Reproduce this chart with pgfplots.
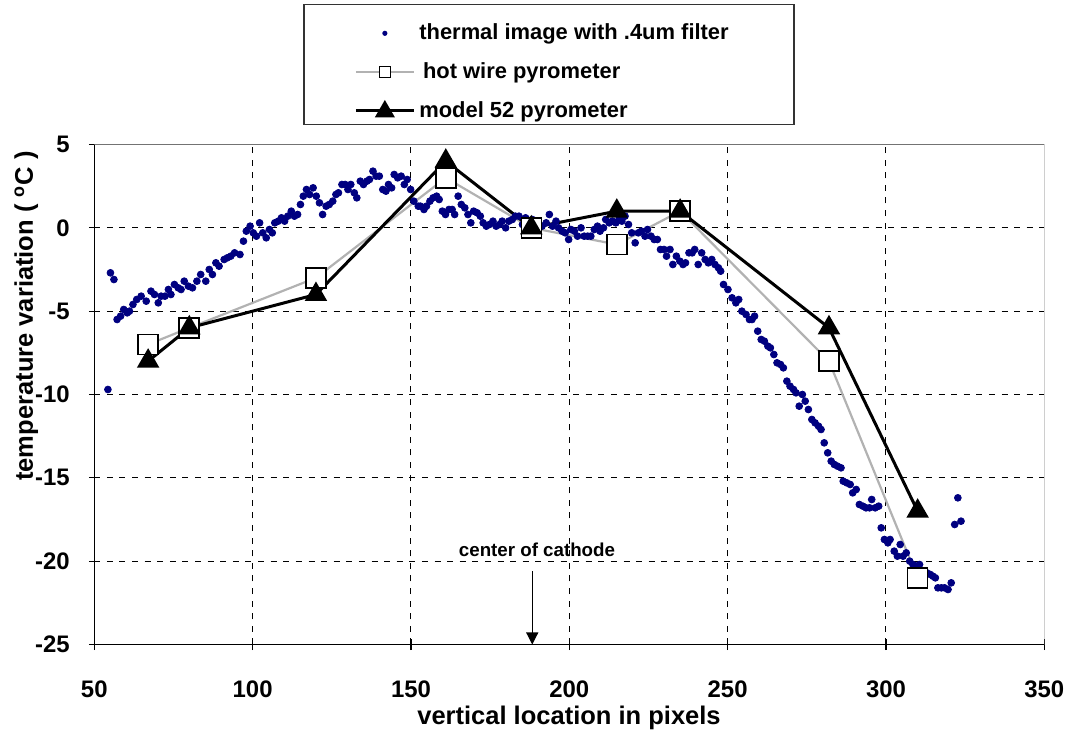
\documentclass[border=0pt]{standalone}
\usepackage{fontspec}
\setmainfont{Liberation Sans}
\usepackage{pgfplots}
\pgfplotsset{compat=1.18}
\usetikzlibrary{arrows.meta}
\definecolor{navy}{RGB}{0,0,128}
\definecolor{hotgray}{RGB}{178,178,178}

\begin{document}
\begin{tikzpicture}
\useasboundingbox (-47.15bp,-46.75bp) rectangle (488.35bp,322.25bp);
\begin{axis}[
  at={(0,0)}, anchor=south west,
  scale only axis, width=475bp, height=250bp,
  xmin=50, xmax=350, ymin=-25, ymax=5,
  xtick={100,150,...,300}, ytick={-20,-15,...,0},
  extra x ticks={50,350}, extra y ticks={-25,5},
  extra x tick style={grid=none}, extra y tick style={grid=none},
  axis x line*=bottom, axis y line*=left,
  axis line style={-, black, line width=0.7bp},
  grid=major,
  major grid style={black, line width=0.5bp, dash pattern=on 3bp off 3.3bp},
  tick align=center, major tick length=5.5bp,
  tick style={black, line width=0.6bp},
  /pgf/number format/assume math mode=true,
  ticklabel style={font=\bfseries\fontsize{12}{14}\selectfont},
  xticklabel style={yshift=-12bp},
  yticklabel style={xshift=-6bp},
  xlabel={vertical location in pixels},
  xlabel style={at={(axis description cs:0.4997,-0.147)}, anchor=center, font=\bfseries\fontsize{12.8}{15}\selectfont},
  ylabel={temperature variation ( \textsuperscript{o}C )},
  ylabel style={at={(axis description cs:-0.0716,0.657)}, anchor=center, font=\bfseries\fontsize{12.8}{15}\selectfont},
  legend cell align=left,
  legend style={at={(0.2207,1.268)}, anchor=north west, draw=none, fill=none,
    font=\bfseries\fontsize{11}{13}\selectfont, inner xsep=25bp, inner ysep=4.5bp, row sep=6bp},
]
\draw[black!55, line width=0.5bp] (rel axis cs:0,1) -- (rel axis cs:1,1) -- (rel axis cs:1,0);

\addplot[only marks, mark=*, mark size=1.7bp, navy, mark options={draw=navy, fill=navy},
  legend image code/.code={\path[draw=none, fill=none] (0bp,0bp) -- (29bp,0bp); \fill[navy, draw=none] (14.5bp,0bp) circle (1.3bp);}]
table {
54.3 -9.7
55.1 -2.7
56.2 -3.1
57.2 -5.5
58.3 -5.3
59.3 -4.9
60.4 -5.1
61.1 -5.0
62.2 -4.6
63.4 -4.3
64.8 -4.1
66.4 -4.4
67.9 -3.8
69.0 -4.0
70.2 -4.5
71.1 -4.1
72.3 -4.1
73.4 -3.7
74.2 -4.0
75.3 -3.4
76.5 -3.6
77.4 -3.7
78.4 -3.2
79.7 -3.5
81.0 -3.6
82.4 -3.2
83.6 -2.8
85.2 -3.2
86.3 -2.5
87.3 -2.8
88.4 -2.1
89.4 -2.3
91.0 -1.9
92.0 -1.8
93.1 -1.7
94.3 -1.5
96.0 -1.6
97.1 -0.8
98.0 -0.2
99.2 0.1
100.2 -0.3
101.2 -0.5
102.2 0.3
103.2 -0.3
104.3 -0.6
105.3 -0.1
106.2 -0.3
107.0 0.3
108.1 0.4
109.1 0.6
110.1 0.4
111.1 0.7
112.2 1.0
113.2 0.7
114.2 0.8
115.1 1.4
116.0 1.9
117.0 2.3
118.0 2.0
119.1 2.4
120.1 1.9
121.1 1.5
122.1 0.8
123.2 1.3
124.2 1.4
125.3 1.6
126.3 2.0
127.1 2.1
128.2 2.6
129.2 2.6
130.1 2.3
131.0 2.6
132.1 2.1
132.9 1.8
134.0 2.8
135.0 2.6
136.1 2.8
136.9 2.9
138.0 3.4
139.0 3.1
140.0 3.1
141.1 2.3
142.1 2.2
142.9 2.6
143.9 2.4
144.7 3.2
145.8 3.0
146.9 3.1
147.9 2.6
148.8 2.9
149.9 2.3
150.9 1.6
152.3 1.3
153.0 1.3
154.1 1.1
154.9 1.3
156.0 1.6
157.0 1.8
158.1 1.9
158.9 1.7
159.9 1.0
160.9 0.8
162.0 1.1
163.0 1.1
163.8 0.8
164.9 1.9
165.9 1.4
167.0 1.2
168.0 0.8
168.9 0.3
169.8 1.0
170.9 0.9
171.9 0.7
172.8 0.3
173.8 0.1
174.8 0.2
175.9 0.4
176.9 0.1
178.0 0.2
178.8 0.4
179.9 0.0
180.9 0.4
182.0 0.5
183.0 0.7
184.1 0.7
185.2 0.2
186.2 0.6
187.2 0.4
188.3 0.5
189.3 0.0
190.3 0.0
191.4 0.1
192.7 0.3
193.7 0.8
194.7 0.1
195.8 0.4
196.6 0.0
197.7 -0.2
198.7 -0.3
199.8 -0.7
200.5 -0.1
201.6 -0.2
202.6 -0.5
203.7 0.0
204.7 -0.5
205.8 -0.5
206.8 -0.5
207.9 -0.1
208.9 0.1
209.7 -0.2
210.8 0.0
211.5 0.5
212.6 0.3
213.6 0.4
214.7 0.3
215.7 0.5
216.6 0.4
217.6 0.7
218.7 0.2
219.7 -0.3
220.8 -0.9
221.8 -0.3
222.8 -0.2
223.9 -0.5
224.7 -0.1
225.8 -0.5
226.8 -0.7
227.8 -0.7
228.8 -1.3
229.9 -1.3
230.7 -1.7
231.8 -1.3
232.7 -2.2
233.8 -1.7
234.9 -2.0
235.9 -2.2
236.7 -2.1
237.8 -1.5
238.8 -1.5
239.6 -1.3
240.7 -2.2
241.8 -1.5
242.9 -1.9
243.9 -2.1
245.0 -1.9
246.0 -2.2
247.1 -2.4
247.8 -2.6
248.7 -3.4
250.1 -3.7
251.4 -4.2
252.6 -4.5
253.5 -4.3
254.5 -5.0
255.8 -5.2
256.9 -5.5
257.7 -5.5
258.5 -5.3
259.5 -6.2
260.6 -6.7
261.6 -6.8
262.7 -7.1
263.5 -7.2
264.6 -7.6
265.6 -8.1
266.7 -8.2
267.6 -8.4
268.7 -9.2
269.7 -9.5
270.8 -9.7
271.6 -9.9
272.6 -10.7
273.6 -10.0
274.5 -10.4
275.5 -10.9
276.6 -11.5
277.6 -11.7
278.7 -11.9
279.5 -12.1
280.5 -12.9
281.6 -13.5
282.7 -14.0
283.7 -14.2
284.7 -14.3
285.8 -14.4
286.5 -15.2
287.6 -15.3
288.7 -15.4
289.5 -15.9
290.6 -15.7
291.6 -16.6
292.7 -16.7
293.7 -16.8
294.8 -16.8
295.5 -16.3
296.6 -16.8
297.7 -16.7
298.5 -18.0
299.5 -18.7
300.6 -18.9
301.3 -18.7
302.6 -19.4
303.6 -19.7
304.5 -19.0
305.4 -19.7
306.4 -19.5
307.5 -20.0
308.5 -20.2
309.6 -20.3
310.6 -20.2
311.6 -20.8
312.9 -20.7
314.0 -20.8
314.8 -20.9
315.6 -21.0
316.4 -21.6
317.5 -21.6
318.5 -21.6
319.6 -21.7
320.6 -21.3
321.7 -17.8
322.7 -16.2
323.7 -17.6
};
\addlegendentry{thermal image with .4um filter}

\addplot[hotgray, line width=1.1bp, mark=square*, mark size=5bp,
  mark options={solid, fill=white, draw=black, line width=0.8bp},
  legend image code/.code={\draw[hotgray, line width=1.1bp] (0bp,0bp) -- (29bp,0bp);
    \draw[black, fill=white, line width=0.6bp] (11.7bp,-2.8bp) rectangle (17.3bp,2.8bp);}]
coordinates {(67,-7) (80,-6) (120,-3) (161,3) (188,0) (215,-1) (235,1) (282,-8) (310,-21)};
\addlegendentry{\,hot wire pyrometer}

\addplot[black, line width=1.5bp, mark=triangle*, mark size=5bp,
  mark options={solid, fill=black},
  legend image code/.code={\draw[black, line width=1.5bp] (0bp,0bp) -- (29bp,0bp);
    \fill[black] (14.5bp,4bp) -- (10.8bp,-2.4bp) -- (18.2bp,-2.4bp) -- cycle;}]
coordinates {(67,-8) (80,-6) (120,-4) (161,4) (188,0) (215,1) (235,1) (282,-6) (310,-17)};
\addlegendentry{model 52 pyrometer}

\draw[black, line width=0.6bp, -{Triangle[length=6bp,width=6bp]}] (axis cs:188.3,-20.6) -- (axis cs:188.3,-25);
\node[font=\bfseries\fontsize{9.4}{11}\selectfont] at (axis cs:189.8,-19.32) {center of cathode};
\node[font=\fontsize{4.7}{6}\selectfont] at (axis description cs:0.925,-0.1435) {mapping.xls};
\end{axis}
\draw[black!80, line width=0.6bp] (104.83bp,260bp) rectangle (349.84bp,320bp);
\end{tikzpicture}
\end{document}
